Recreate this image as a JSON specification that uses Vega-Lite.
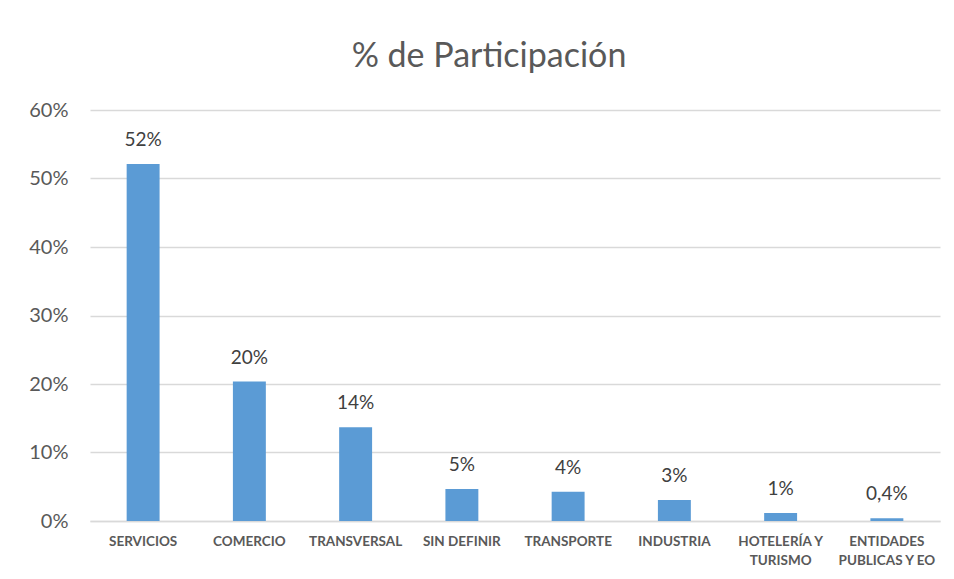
{
  "$schema": "https://vega.github.io/schema/vega-lite/v6.json",
  "width": 850,
  "height": 411,
  "autosize": {"type": "none"},
  "padding": {"left": 90, "top": 110, "right": 14, "bottom": 58},
  "background": "white",
  "title": {
    "text": "% de Participación",
    "fontSize": 34,
    "font": "Lato",
    "fontWeight": "normal",
    "color": "#595959",
    "anchor": "middle",
    "dx": -26,
    "baseline": "alphabetic",
    "offset": -1
  },
  "data": {
    "values": [
      {"sector": "SERVICIOS", "valor": 0.521, "etiqueta": "52%"},
      {"sector": "COMERCIO", "valor": 0.2035, "etiqueta": "20%"},
      {"sector": "TRANSVERSAL", "valor": 0.137, "etiqueta": "14%"},
      {"sector": "SIN DEFINIR", "valor": 0.0467, "etiqueta": "5%"},
      {"sector": "TRANSPORTE", "valor": 0.0428, "etiqueta": "4%"},
      {"sector": "INDUSTRIA", "valor": 0.0307, "etiqueta": "3%"},
      {"sector": "HOTELERÍA Y TURISMO", "valor": 0.0117, "etiqueta": "1%"},
      {"sector": "ENTIDADES PUBLICAS Y EO", "valor": 0.0039, "etiqueta": "0,4%"}
    ]
  },
  "encoding": {
    "x": {
      "field": "sector",
      "type": "nominal",
      "sort": null,
      "title": null,
      "scale": {"paddingInner": 0.69, "paddingOuter": 0.345},
      "axis": {
        "labelAngle": 0,
        "labelFont": "Lato",
        "labelFontSize": 13.5,
        "labelFontWeight": "bold",
        "labelColor": "#595959",
        "labelPadding": 13,
        "labelLineHeight": 19,
        "labelBaseline": "top",
        "labelLimit": 200,
        "ticks": false,
        "domainColor": "#d9d9d9",
        "domainWidth": 1.5,
        "labelExpr": "datum.value == 'HOTELERÍA Y TURISMO' ? ['HOTELERÍA Y', 'TURISMO'] : datum.value == 'ENTIDADES PUBLICAS Y EO' ? ['ENTIDADES', 'PUBLICAS Y EO'] : datum.value"
      }
    },
    "y": {
      "field": "valor",
      "type": "quantitative",
      "title": null,
      "scale": {"domain": [0, 0.6], "nice": false},
      "axis": {
        "format": ".0%",
        "values": [0, 0.1, 0.2, 0.3, 0.4, 0.5, 0.6],
        "labelFont": "Lato",
        "labelFontSize": 20,
        "labelColor": "#595959",
        "labelPadding": 22,
        "ticks": false,
        "domain": false,
        "gridColor": "#d9d9d9",
        "gridWidth": 1.5
      }
    }
  },
  "layer": [
    {"mark": {"type": "bar", "color": "#5B9BD5"}},
    {
      "mark": {
        "type": "text",
        "font": "Lato",
        "fontSize": 19,
        "color": "#404040",
        "baseline": "alphabetic",
        "dy": -18
      },
      "encoding": {"text": {"field": "etiqueta"}}
    }
  ],
  "config": {"view": {"stroke": null}}
}
